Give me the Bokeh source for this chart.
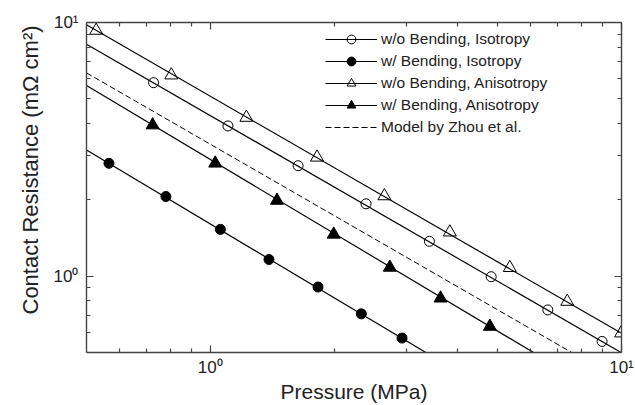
import math
from bokeh.plotting import figure
from bokeh.models import FixedTicker, LogAxis, Legend, LegendItem, Title
from bokeh.embed import file_html
from bokeh.resources import INLINE

# ---- data ----
p_wo_iso = [0.728, 1.104, 1.635, 2.392, 3.411, 4.82, 6.62, 8.97]
r_wo_iso = [5.79, 3.91, 2.725, 1.928, 1.372, 0.995, 0.736, 0.553]

p_w_iso = [0.567, 0.780, 1.058, 1.389, 1.828, 2.33, 2.926]
r_w_iso = [2.785, 2.06, 1.529, 1.163, 0.906, 0.710, 0.570]

p_wo_ani = [0.528, 0.804, 1.224, 1.818, 2.651, 3.824, 5.35, 7.38, 9.98]
r_wo_ani = [9.30, 6.20, 4.22, 2.94, 2.07, 1.49, 1.079, 0.794, 0.596]

p_w_ani = [0.724, 1.028, 1.453, 1.996, 2.733, 3.63, 4.785]
r_w_ani = [3.94, 2.785, 1.987, 1.461, 1.082, 0.818, 0.633]

# fitted power-law lines (end points)
fit_p_wo_iso = [0.5, 10.0]
fit_r_wo_iso = [8.21, 0.499]
fit_p_w_iso = [0.5, 3.4]
fit_r_w_iso = [3.14, 0.492]
fit_p_wo_ani = [0.5, 10.0]
fit_r_wo_ani = [9.79, 0.595]
fit_p_w_ani = [0.5, 6.2]
fit_r_w_ani = [5.64, 0.493]
zhou_p = [0.5, 7.8]
zhou_r = [6.33, 0.486]

labels = ["w/o Bending, Isotropy", "w/ Bending, Isotropy",
          "w/o Bending, Anisotropy", "w/ Bending, Anisotropy",
          "Model by Zhou et al."]

major_ticks = [1, 10]
major_tick_labels = ["10\u2070", "10\u00b9"]
minor_ticks = [0.6, 0.7, 0.8, 0.9, 2, 3, 4, 5, 6, 7, 8, 9]

FONT = "Liberation Sans"
TXT = "#222222"
AX = "#444444"

p = figure(width=635, height=405, x_axis_type="log", y_axis_type="log",
           x_range=(0.5, 10), y_range=(0.5, 10),
           output_backend="svg", toolbar_location=None,
           min_border_left=86, min_border_right=14,
           min_border_top=22, min_border_bottom=49)
p.grid.visible = False
p.outline_line_color = None
p.background_fill_color = "white"
p.border_fill_color = "white"

p.add_layout(LogAxis(), "above")
p.add_layout(LogAxis(), "right")

for ax in p.axis:
    ax.ticker = FixedTicker(ticks=major_ticks, minor_ticks=minor_ticks)
    ax.major_tick_in = 7
    ax.major_tick_out = 0
    ax.minor_tick_in = 4
    ax.minor_tick_out = 0
    ax.axis_line_color = AX
    ax.axis_line_width = 1.4
    ax.major_tick_line_color = AX
    ax.major_tick_line_width = 1.2
    ax.minor_tick_line_color = AX
    ax.minor_tick_line_width = 1.2
    ax.major_label_text_font = FONT
    ax.major_label_text_font_size = "17px"
    ax.major_label_text_color = TXT
    ax.major_label_overrides = dict(zip(major_ticks, major_tick_labels))

p.above[0].major_label_text_color = None
p.right[0].major_label_text_color = None
p.above[0].major_label_standoff = 0
p.right[0].major_label_standoff = 0
p.below[0].major_label_standoff = 5
p.left[0].major_label_standoff = 8

xax = p.below[0]
xax.axis_label = "Pressure (MPa)"
xax.axis_label_text_font = FONT
xax.axis_label_text_font_size = "21px"
xax.axis_label_text_font_style = "normal"
xax.axis_label_text_color = TXT
xax.axis_label_standoff = 0

# lines
l1 = p.line(fit_p_wo_iso, fit_r_wo_iso, line_color="black", line_width=1.2)
l2 = p.line(fit_p_w_iso, fit_r_w_iso, line_color="black", line_width=1.2)
l3 = p.line(fit_p_wo_ani, fit_r_wo_ani, line_color="black", line_width=1.2)
l4 = p.line(fit_p_w_ani, fit_r_w_ani, line_color="black", line_width=1.2)
l5 = p.line(zhou_p, zhou_r, line_color="black", line_width=1.0, line_dash="6 3")

# markers
s1 = p.scatter(p_wo_iso, r_wo_iso, marker="circle", size=10, fill_color=None,
               line_color="black", line_width=1)
s2 = p.scatter(p_w_iso, r_w_iso, marker="circle", size=10, fill_color="black",
               line_color="black", line_width=1)
s3 = p.scatter(p_wo_ani, r_wo_ani, marker="triangle", size=13, fill_color=None,
               line_color="black", line_width=1)
s4 = p.scatter(p_w_ani, r_w_ani, marker="triangle", size=13, fill_color="black",
               line_color="black", line_width=1)

legend = Legend(items=[
    LegendItem(label=labels[0], renderers=[l1, s1]),
    LegendItem(label=labels[1], renderers=[l2, s2]),
    LegendItem(label=labels[2], renderers=[l3, s3]),
    LegendItem(label=labels[3], renderers=[l4, s4]),
    LegendItem(label=labels[4], renderers=[l5]),
], location=(239, 214), padding=0, spacing=0, margin=0,
   glyph_width=52, glyph_height=22, label_height=22, label_standoff=4,
   border_line_color=None, background_fill_alpha=0,
   label_text_font=FONT, label_text_font_size="15.5px", label_text_color=TXT)
p.add_layout(legend)

# y-axis title (placed as a side title so it can sit off-centre like the reference)
p.add_layout(Title(text="Contact Resistance (m\u03a9 cm\u00b2)", align="left",
                   offset=38, vertical_align="middle", standoff=14,
                   text_font=FONT, text_font_size="22px",
                   text_font_style="normal", text_color=TXT), "left")

open("out.html", "w").write(file_html(p, INLINE))
